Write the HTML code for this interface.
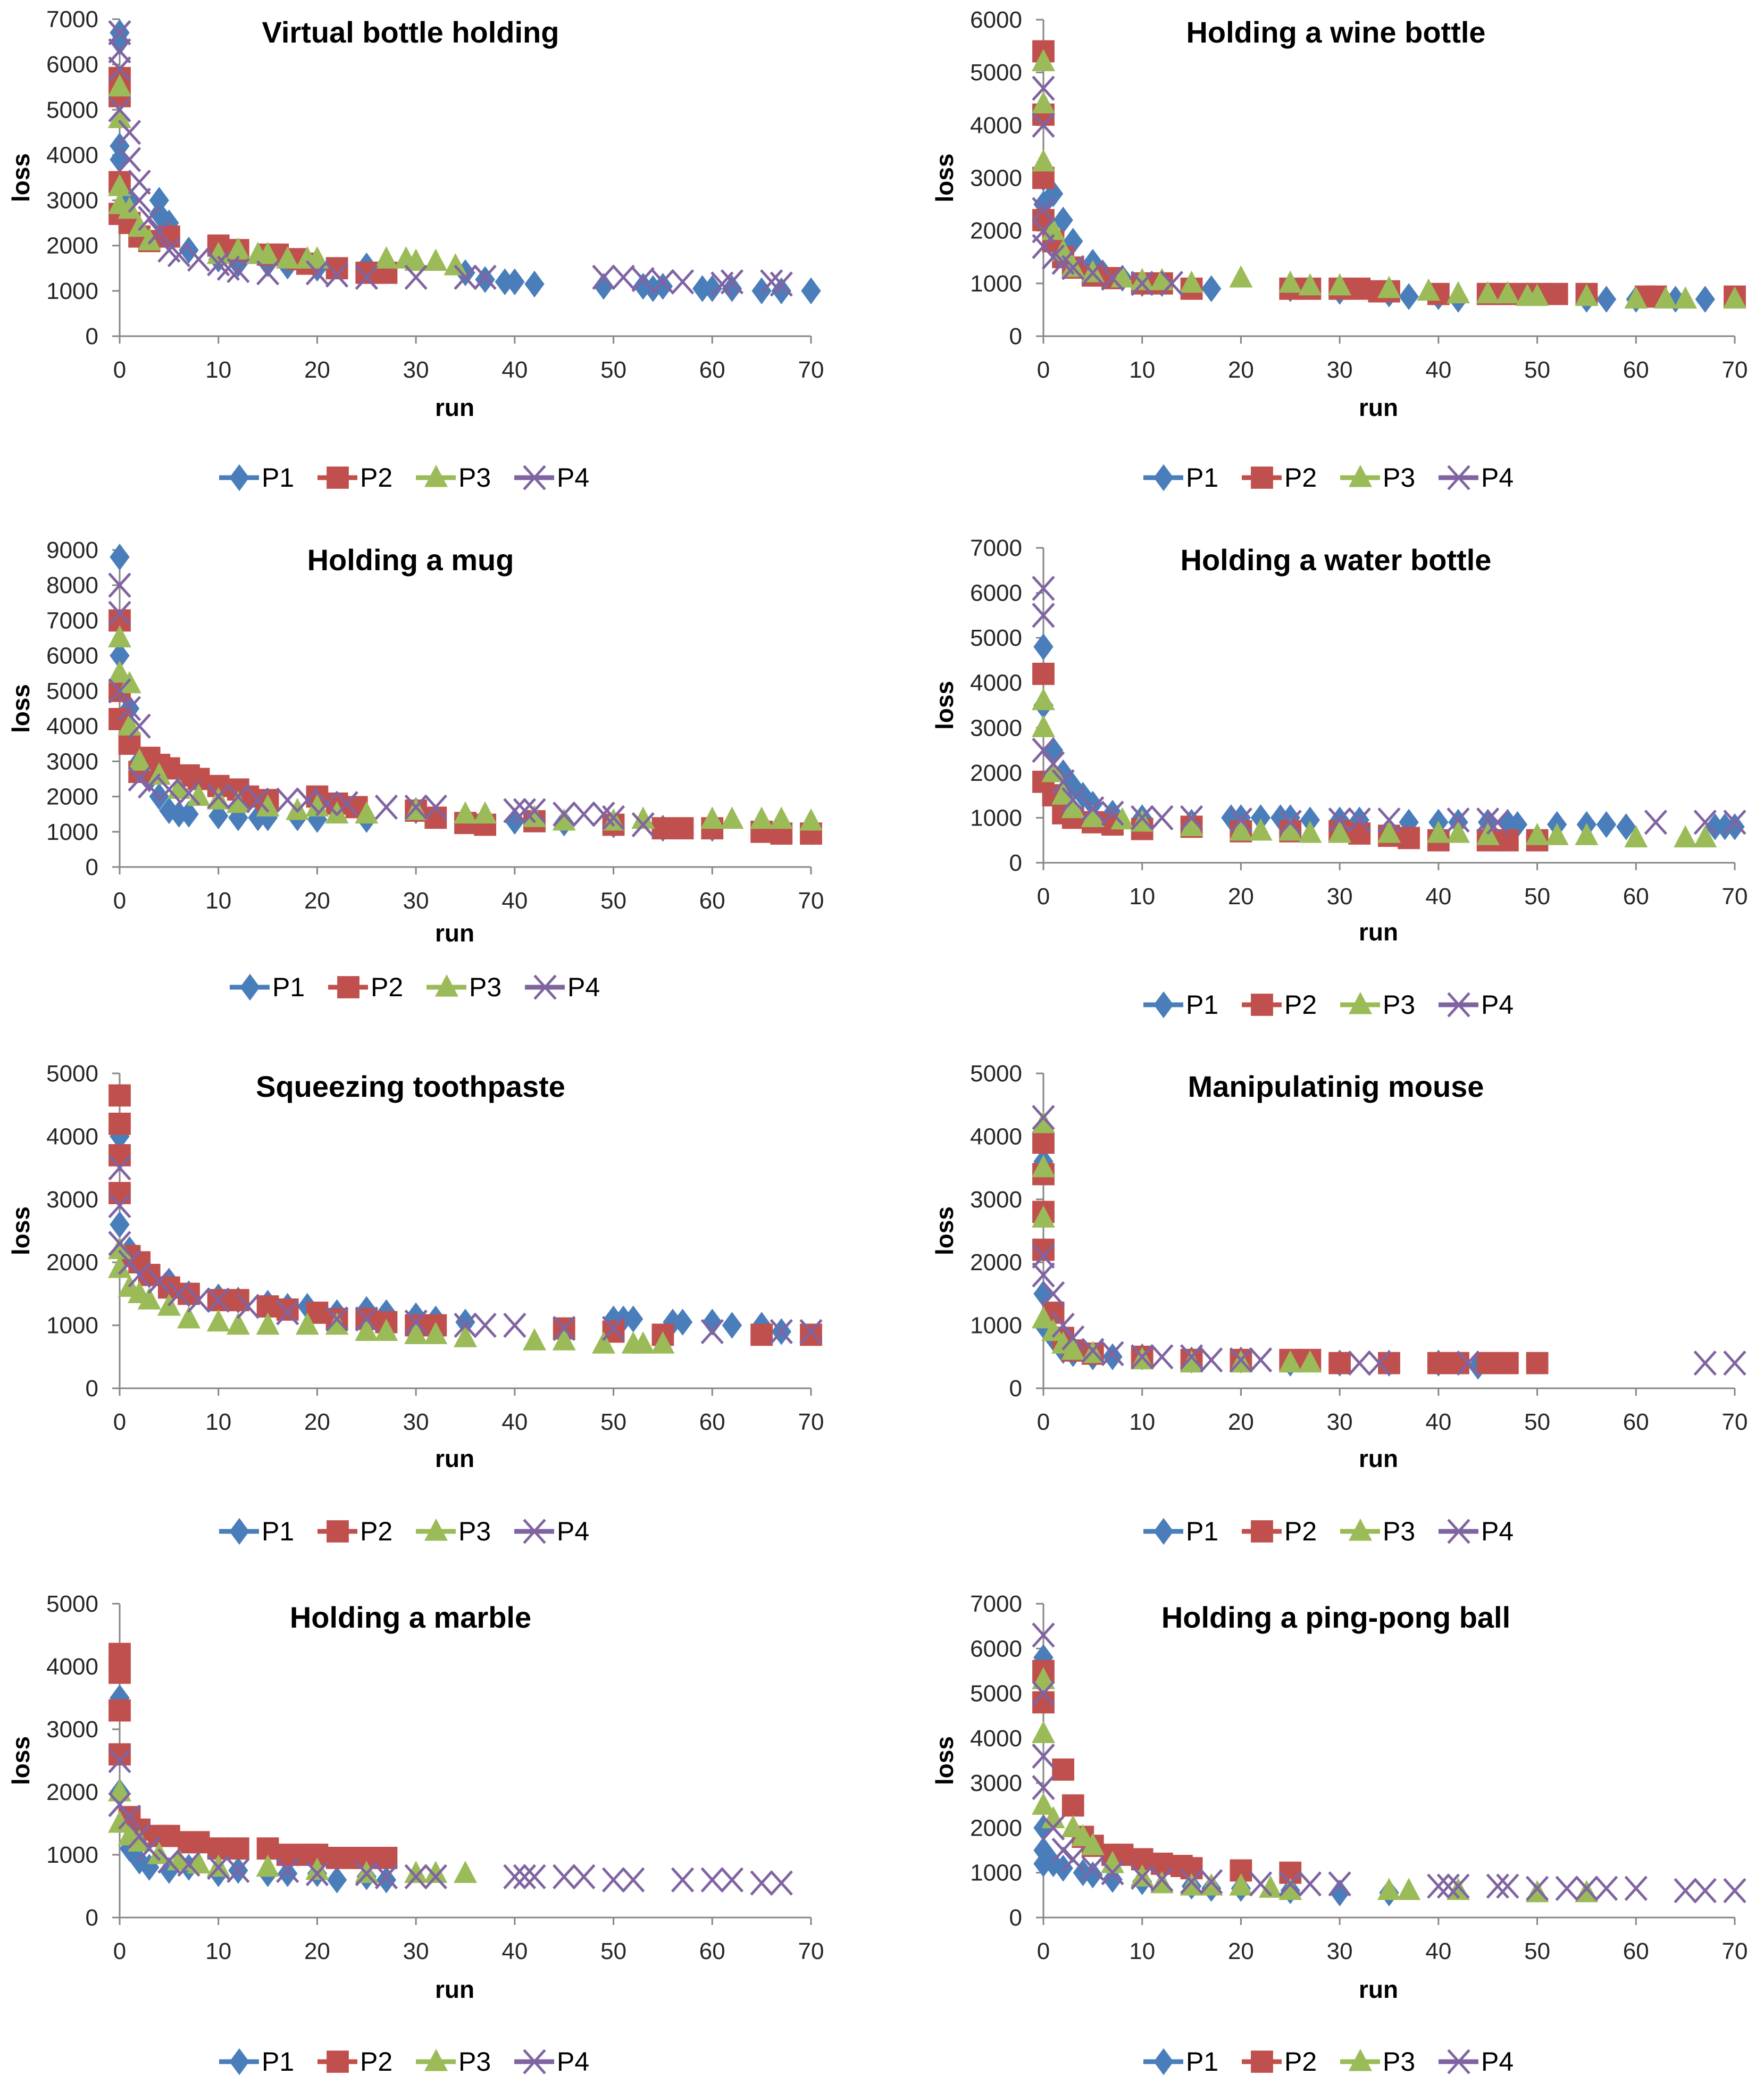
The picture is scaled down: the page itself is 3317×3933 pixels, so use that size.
<!DOCTYPE html>
<html><head><meta charset="utf-8">
<style>
html,body{margin:0;padding:0;background:#fff;}
svg{display:block;font-family:"Liberation Sans",sans-serif;}
</style></head>
<body>
<svg id="fig" width="3317" height="3933" viewBox="0 0 3317 3933" xmlns="http://www.w3.org/2000/svg"></svg>
<script>
// ---- data (run, loss) pairs per participant ----
const vbP1=[[0,6700],[0,6500],[0,4200],[0,3900],[1,3000],[4,3000],[4,2700],[5,2500],[7,1900],[10,1700],[12,1600],[15,1600],[17,1550],[20,1500],[25,1550],[35,1400],[37,1250],[39,1200],[40,1200],[42,1150],[49,1100],[53,1100],[54,1050],[55,1100],[59,1050],[60,1050],[62,1050],[65,1000],[67,1000],[70,1000]];
const vbP2=[[0,5700],[0,5300],[0,3400],[0,2700],[1,2500],[2,2200],[3,2100],[5,2200],[10,2000],[11,1900],[12,1900],[15,1800],[16,1800],[18,1700],[19,1600],[22,1500],[25,1400],[27,1400]];
const vbP3=[[0,5500],[0,4800],[0,3300],[0,2900],[1,2800],[2,2400],[3,2100],[10,1800],[12,1900],[14,1800],[15,1800],[17,1700],[19,1700],[20,1700],[27,1700],[29,1700],[30,1650],[32,1650],[34,1550]];
const vbP4=[[0,6700],[0,6300],[0,5900],[0,5000],[1,4500],[1,3900],[2,3400],[2,3000],[3,2600],[4,2300],[5,1900],[6,1800],[8,1700],[10,1600],[11,1500],[12,1450],[15,1400],[20,1400],[22,1350],[25,1300],[30,1300],[35,1300],[37,1300],[49,1300],[51,1300],[53,1250],[55,1200],[57,1200],[61,1150],[62,1200],[66,1200],[67,1150]];

const wbP1=[[0,3000],[0,2500],[1,2700],[2,2200],[3,1800],[5,1400],[6,1200],[8,1100],[10,1000],[12,1000],[17,900],[25,900],[30,850],[35,800],[37,750],[40,750],[42,700],[55,700],[57,700],[60,700],[64,700],[67,700]];
const wbP2=[[0,5400],[0,4200],[0,3000],[0,2200],[1,1800],[2,1500],[3,1300],[5,1150],[7,1100],[10,1000],[12,1000],[15,900],[25,900],[27,900],[30,900],[32,900],[34,850],[35,850],[40,800],[45,800],[46,800],[48,800],[50,800],[52,800],[55,800],[61,750],[62,750],[70,750]];
const wbP3=[[0,5200],[0,4400],[0,3300],[1,2000],[2,1600],[3,1300],[5,1200],[8,1100],[10,1050],[12,1050],[15,1000],[20,1100],[25,1000],[27,950],[30,950],[35,900],[39,850],[42,800],[45,800],[47,800],[49,750],[50,750],[55,750],[60,700],[63,700],[65,700],[70,700]];
const wbP4=[[0,4700],[0,4000],[0,2400],[0,2000],[0,1700],[1,1500],[2,1400],[3,1300],[5,1200],[7,1100],[10,1000],[13,1000]];

const mgP1=[[0,8800],[0,6000],[1,4500],[2,3000],[3,2500],[4,2000],[5,1600],[6,1500],[7,1500],[10,1450],[12,1400],[14,1400],[15,1400],[18,1400],[20,1350],[25,1350],[30,1600],[40,1300],[45,1250],[50,1200],[55,1100],[60,1100],[65,1100],[70,1000]];
const mgP2=[[0,7000],[0,5000],[0,4200],[1,3500],[2,2700],[3,3100],[4,2900],[5,2800],[7,2600],[8,2500],[10,2300],[12,2200],[13,2000],[15,1900],[20,2000],[22,1800],[24,1700],[30,1600],[32,1400],[35,1250],[37,1200],[42,1300],[50,1200],[55,1100],[57,1100],[60,1100],[65,1000],[67,950],[70,950]];
const mgP3=[[0,6500],[0,5500],[1,5200],[1,4000],[2,3000],[4,2600],[6,2200],[8,2000],[10,1900],[12,1800],[15,1700],[18,1600],[20,1700],[22,1500],[25,1500],[30,1600],[35,1500],[37,1500],[42,1400],[45,1300],[50,1300],[53,1350],[60,1350],[62,1350],[65,1350],[67,1350],[70,1300]];
const mgP4=[[0,8000],[0,7200],[0,5000],[1,4500],[2,4000],[2,2500],[3,2300],[5,2200],[7,2100],[10,2000],[12,2000],[14,1900],[17,1900],[19,1900],[21,1800],[23,1800],[27,1700],[30,1700],[32,1700],[40,1600],[41,1600],[42,1600],[45,1500],[47,1500],[49,1500],[50,1400],[53,1200]];

const wtP1=[[0,4800],[0,3500],[1,2500],[2,2000],[3,1700],[4,1500],[5,1300],[7,1100],[10,1000],[15,900],[19,1000],[20,1000],[22,1000],[24,1000],[25,1000],[27,950],[30,950],[32,950],[37,900],[40,900],[42,900],[45,900],[47,900],[48,850],[52,850],[55,850],[57,850],[59,800],[68,800],[69,800],[70,800]];
const wtP2=[[0,4200],[0,1800],[1,1500],[2,1100],[3,1000],[5,900],[7,850],[10,750],[15,800],[20,700],[25,700],[30,700],[32,650],[35,600],[37,550],[40,500],[45,500],[47,500],[50,500]];
const wtP3=[[0,3600],[0,3000],[1,2000],[2,1500],[3,1200],[5,1000],[8,950],[10,900],[15,800],[20,700],[22,700],[25,700],[27,650],[30,650],[35,650],[40,650],[42,650],[45,600],[50,600],[52,600],[55,600],[60,550],[65,550],[67,550]];
const wtP4=[[0,6100],[0,5500],[0,2500],[1,2200],[2,1800],[3,1400],[5,1200],[7,1100],[10,1000],[12,1000],[15,1000],[20,950],[25,900],[30,950],[32,950],[35,950],[42,950],[45,950],[46,900],[62,900],[67,900],[70,900]];

const tpP1=[[0,4000],[0,2600],[1,2200],[2,2000],[3,1800],[5,1700],[7,1500],[10,1450],[12,1400],[15,1350],[17,1300],[19,1300],[22,1200],[25,1250],[27,1200],[30,1150],[32,1100],[35,1050],[50,1100],[51,1100],[52,1100],[56,1050],[57,1050],[60,1050],[62,1000],[65,1000],[67,900]];
const tpP2=[[0,4650],[0,4200],[0,3700],[0,3100],[1,2100],[2,2000],[3,1800],[5,1600],[7,1500],[10,1400],[12,1400],[15,1300],[17,1250],[20,1200],[22,1100],[25,1100],[27,1050],[30,1000],[32,1000],[45,950],[50,900],[55,850],[65,850],[70,850]];
const tpP3=[[0,2200],[0,1900],[1,1600],[2,1500],[3,1400],[5,1300],[7,1100],[10,1050],[12,1000],[15,1000],[19,1000],[22,1000],[25,900],[27,900],[30,850],[32,850],[35,800],[42,750],[45,750],[49,700],[52,700],[53,700],[55,700]];
const tpP4=[[0,3500],[0,2900],[0,2300],[1,2000],[2,1800],[4,1700],[6,1500],[8,1400],[10,1400],[13,1300],[17,1200],[22,1100],[25,1100],[30,1050],[35,1000],[37,1000],[40,1000],[45,950],[50,950],[60,900],[67,900],[70,900]];

const msP1=[[0,4000],[0,3600],[0,1500],[0,1000],[1,800],[2,600],[3,550],[5,500],[7,500],[10,500],[15,450],[20,450],[25,400],[30,400],[35,400],[40,400],[44,350]];
const msP2=[[0,3900],[0,3400],[0,2800],[0,2200],[1,1200],[2,800],[3,600],[5,550],[10,500],[15,450],[20,450],[25,450],[27,450],[30,400],[35,400],[40,400],[42,400],[45,400],[47,400],[50,400]];
const msP3=[[0,4200],[0,3500],[0,2700],[0,1100],[1,900],[2,700],[3,600],[5,550],[10,450],[15,400],[20,400],[25,400],[27,400]];
const msP4=[[0,4300],[0,2100],[0,1800],[1,1500],[2,1000],[3,800],[5,600],[7,550],[10,500],[12,500],[15,500],[17,450],[20,450],[22,450],[32,400],[34,400],[43,400],[67,400],[70,400]];

const mbP1=[[0,3500],[0,2000],[1,1100],[2,900],[3,800],[5,750],[7,800],[10,700],[12,750],[15,700],[17,700],[20,700],[22,600],[25,650],[27,600]];
const mbP2=[[0,4200],[0,3900],[0,3300],[0,2600],[1,1600],[2,1400],[4,1300],[5,1300],[7,1200],[8,1200],[10,1100],[12,1100],[15,1100],[17,1000],[19,1000],[20,1000],[22,950],[24,950],[25,950],[27,950]];
const mbP3=[[0,2000],[0,1500],[1,1300],[2,1200],[4,1000],[6,900],[8,850],[10,800],[15,800],[20,750],[25,700],[30,700],[32,700],[35,700]];
const mbP4=[[0,2500],[0,1800],[1,1600],[2,1300],[3,1100],[5,900],[7,850],[10,800],[12,750],[17,750],[20,700],[25,700],[27,650],[30,650],[32,650],[40,650],[41,650],[42,650],[45,650],[47,650],[50,600],[52,600],[57,600],[60,600],[62,600],[65,550],[67,550]];

const ppP1=[[0,5800],[0,2000],[0,1500],[0,1200],[1,1200],[2,1100],[4,1000],[5,950],[7,850],[10,800],[15,700],[17,650],[20,650],[25,600],[30,550],[35,550]];
const ppP2=[[0,5500],[0,4800],[2,3300],[3,2500],[4,1800],[5,1600],[7,1400],[8,1400],[10,1300],[12,1200],[14,1150],[15,1100],[20,1050],[25,1000]];
const ppP3=[[0,5300],[0,4100],[0,2500],[1,2200],[3,2000],[4,1800],[5,1600],[7,1200],[10,900],[12,750],[15,700],[17,700],[20,700],[23,650],[25,600],[35,600],[37,600],[42,600],[50,550],[55,550]];
const ppP4=[[0,6300],[0,5000],[0,3600],[0,2900],[1,2000],[2,1500],[3,1300],[5,1100],[7,1000],[10,900],[12,850],[15,800],[17,800],[22,750],[25,750],[27,750],[30,750],[40,700],[41,700],[42,700],[46,700],[47,700],[50,650],[53,650],[55,650],[57,650],[60,650],[65,600],[67,600],[70,600]];

const xTicks=[0,10,20,30,40,50,60,70];
const seriesNames=["P1","P2","P3","P4"];
const titles=["Virtual bottle holding","Holding a wine bottle","Holding a mug","Holding a water bottle","Squeezing toothpaste","Manipulatinig mouse","Holding a marble","Holding a ping-pong ball"];
const yMaxes=[7000,6000,9000,7000,5000,5000,5000,7000];
const chartSeries=[[vbP1,vbP2,vbP3,vbP4],[wbP1,wbP2,wbP3,wbP4],[mgP1,mgP2,mgP3,mgP4],[wtP1,wtP2,wtP3,wtP4],[tpP1,tpP2,tpP3,tpP4],[msP1,msP2,msP3,msP4],[mbP1,mbP2,mbP3,mbP4],[ppP1,ppP2,ppP3,ppP4]];

// ---- layout ----
const colors=["#4A7EBB","#C0504D","#9BBB59","#8064A2"];
const layouts=[
 {x0:225,x1:1525,y0:632,yt:36,title:[772,80],run:782,leg:[412,915]},
 {x0:1962,x1:3262,y0:632,yt:37,title:[2512,80],run:782,leg:[2150,915]},
 {x0:225,x1:1525,y0:1630,yt:1034,title:[772,1072],run:1770,leg:[432,1873]},
 {x0:1962,x1:3262,y0:1622,yt:1030,title:[2512,1072],run:1768,leg:[2150,1906]},
 {x0:225,x1:1525,y0:2610,yt:2018,title:[772,2062],run:2758,leg:[412,2896]},
 {x0:1962,x1:3262,y0:2610,yt:2018,title:[2512,2062],run:2758,leg:[2150,2896]},
 {x0:225,x1:1525,y0:3605,yt:3015,title:[772,3060],run:3756,leg:[412,3893]},
 {x0:1962,x1:3262,y0:3605,yt:3015,title:[2512,3060],run:3756,leg:[2150,3893]}
];
const NS="http://www.w3.org/2000/svg";
const svg=document.getElementById('fig');
function mk(tag,attrs,parent){const e=document.createElementNS(NS,tag);for(const k in attrs)e.setAttribute(k,attrs[k]);parent.appendChild(e);return e;}

function marker(g,s,cx,cy,r){
  let e;
  if(s===0){e=mk('polygon',{points:`${cx},${cy-r*1.15} ${cx+r*0.85},${cy} ${cx},${cy+r*1.15} ${cx-r*0.85},${cy}`,fill:colors[0]},g);}
  else if(s===1){e=mk('rect',{x:cx-r*0.95,y:cy-r*0.95,width:r*1.9,height:r*1.9,fill:colors[1]},g);}
  else if(s===2){e=mk('polygon',{points:`${cx},${cy-r*1.1} ${cx+r},${cy+r*0.8} ${cx-r},${cy+r*0.8}`,fill:colors[2]},g);}
  else {e=mk('path',{d:`M${cx-r*0.9},${cy-r} L${cx+r*0.9},${cy+r} M${cx+r*0.9},${cy-r} L${cx-r*0.9},${cy+r}`,stroke:colors[3],'stroke-width':5,fill:'none'},g);}
  return e;
}

layouts.forEach((L,ci)=>{
  const ymax=yMaxes[ci];
  const sx=v=>L.x0+(L.x1-L.x0)*v/70;
  const sy=v=>L.y0-(L.y0-L.yt)*v/ymax;
  const g=mk('g',{},svg);
  
  
  const ax=mk('line',{x1:L.x0,y1:L.y0,x2:L.x1,y2:L.y0,stroke:'#868686','stroke-width':3},g);
  
  
  const ay=mk('line',{x1:L.x0,y1:L.y0,x2:L.x0,y2:L.yt,stroke:'#868686','stroke-width':3},g);
  
  
  xTicks.forEach(t=>{
    mk('line',{x1:sx(t),y1:L.y0,x2:sx(t),y2:L.y0+14,stroke:'#868686','stroke-width':3},g);
    const tx=mk('text',{x:sx(t),y:L.y0+78,'font-size':44,'text-anchor':'middle',fill:'#262626'},g);
    tx.textContent=t;
    
    
  });
  for(let v=0;v<=ymax;v+=1000){
    mk('line',{x1:L.x0-14,y1:sy(v),x2:L.x0,y2:sy(v),stroke:'#868686','stroke-width':3},g);
    const ty=mk('text',{x:L.x0-40,y:sy(v)+15,'font-size':44,'text-anchor':'end',fill:'#262626'},g);
    ty.textContent=v;
    
    
  }
  const tt=mk('text',{x:L.title[0],y:L.title[1],'font-size':56,'font-weight':'bold','text-anchor':'middle',fill:'#000'},g);
  tt.textContent=titles[ci];
  
  
  const rt=mk('text',{x:(L.x0+L.x1)/2-20,y:L.run,'font-size':46,'font-weight':'bold','text-anchor':'middle',fill:'#000'},g);
  rt.textContent='run';
  
  
  const ly=(L.y0+L.yt)/2;
  const lt=mk('text',{x:L.x0-170,y:ly,'font-size':46,'font-weight':'bold','text-anchor':'middle',fill:'#000',transform:`rotate(-90 ${L.x0-170} ${ly})`},g);
  lt.textContent='loss';
  
  
  chartSeries[ci].forEach((pts,si)=>{
    const sg=mk('g',{},g);
    
    
    pts.forEach(p=>{
      const m=marker(sg,si,sx(p[0]),sy(p[1]),22);
      
      
    });
  });
  const lg=mk('g',{},g);
  
  
  seriesNames.forEach((n,si)=>{
    const lx=L.leg[0]+si*185, yy=L.leg[1]-17;
    const eg=mk('g',{},lg);
    
    
    mk('line',{x1:lx,y1:yy,x2:lx+75,y2:yy,stroke:colors[si],'stroke-width':9},eg);
    marker(eg,si,lx+38,yy,22);
    const t=mk('text',{x:lx+80,y:L.leg[1],'font-size':50,fill:'#000'},eg);
    t.textContent=n;
  });
});
</script>
</body></html>
